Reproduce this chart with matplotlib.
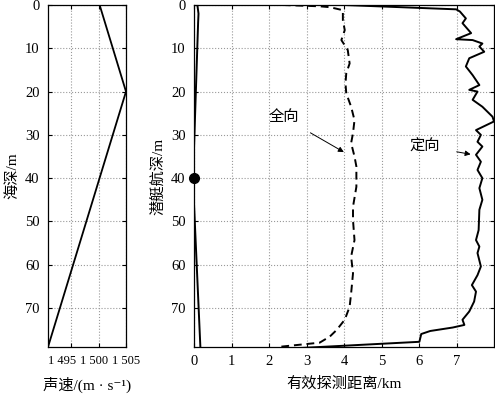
import numpy as np
import matplotlib
matplotlib.use('Agg')
import matplotlib.pyplot as plt
import matplotlib.ticker as ticker

plt.rcParams['font.family'] = ['Liberation Serif', 'Noto Sans CJK SC', 'DejaVu Sans']
plt.rcParams['font.size'] = 10.5
plt.rcParams['xtick.direction'] = 'in'
plt.rcParams['ytick.direction'] = 'in'
plt.rcParams['xtick.top'] = True
plt.rcParams['ytick.right'] = True
plt.rcParams['axes.unicode_minus'] = False

## sound speed profile
sp_depth = [0, 20, 79]
sp_speed = [1500.2, 1505.0, 1490.8]
speed_ticks = [1495, 1500, 1505]
speed_labels = ['1 495', '1 500', '1 505']

## directional (定向) detection range, solid
dir_dist = [0.0, 0.11, 0.12, 0.09, 4.0, 6.99, 7.09, 7.25, 7.16, 7.39, 6.99, 7.43, 7.69,
            7.61, 7.74, 7.34, 7.25, 7.43, 7.61, 7.34, 7.56, 7.43, 7.69, 7.96, 8.0,
            7.52, 7.65, 7.56, 7.69, 7.52, 7.65, 7.56, 7.69, 7.61, 7.69, 7.61, 7.59,
            7.52, 7.61, 7.56, 7.65, 7.56, 7.41, 7.52, 7.47, 7.34, 7.16, 7.21, 6.9,
            6.3, 6.06, 6.01, 3.35, 0.2, 0.17, 0.0]
dir_depth = [33, 4, 2, 0, 0, 1.0, 1.5, 3.1, 4.2, 6.5, 7.9, 8.1, 8.9,
             9.6, 10.8, 12.3, 14.2, 16.2, 18.5, 19.6, 20.0, 21.9, 23.5, 25.8, 26.9,
             28.9, 30.0, 31.6, 32.7, 34.6, 36.2, 38.1, 40.0, 42.3, 45.0, 47.3, 52.0,
             54.3, 55.8, 57.3, 60.4, 62.4, 64.7, 66.2, 68.5, 70.8, 72.7, 73.9, 74.5,
             75.3, 76.0, 77.8, 79.0, 80.4, 79.0, 46.0]

## omnidirectional (全向) detection range, dashed
omni_dist = [2.37, 3.35, 3.62, 3.97, 3.97, 4.02, 3.93, 4.10, 4.15, 4.06, 4.04, 4.06,
             4.19, 4.28, 4.24, 4.19, 4.28, 4.33, 4.33, 4.33, 4.24, 4.24, 4.28, 4.19,
             4.24, 4.19, 4.15, 4.02, 3.80, 3.62, 3.35, 2.23]
omni_depth = [0, 0.3, 0.5, 1.2, 3.5, 5.8, 8.1, 10.4, 13.5, 15.8, 18.1, 20.4,
              23.5, 26.6, 29.6, 31.9, 35.0, 37.3, 39.3, 42.0, 46.6, 49.7, 54.3, 58.1,
              62.0, 66.6, 69.7, 72.7, 75.1, 76.6, 78.0, 79.0]

sub_depth = 40

fig = plt.figure(figsize=(4.95, 3.94), dpi=100)

p1 = fig.add_axes([48/495, 1-347/394, 78/495, 342/394])
p2 = fig.add_axes([194/495, 1-347/394, 300/495, 342/394])

p1.plot(sp_speed, sp_depth, color='black', lw=1.3)
p1.set_xlim(1490.8, 1505)
p1.set_xticks(speed_ticks)
p1.set_xticklabels([])
# crowded labels: written by hand, nudged left so they don't run together
for tk, lab, dx in zip(speed_ticks, speed_labels, [-6.5, -3, 0]):
    p1.annotate(lab, xy=(tk, 0), xycoords=('data', 'axes fraction'),
                xytext=(dx, -6), textcoords='offset points',
                ha='center', va='top', fontsize=9, annotation_clip=False)
p1.set_xlabel('声速/(m · s\u207b\u00b9)', fontsize=11)
p1.xaxis.set_label_coords(0.5, -0.088)
p1.set_ylabel('海深/m', labelpad=4, fontsize=11)

p2.plot(dir_dist, dir_depth, color='black', lw=1.4)
p2.plot(omni_dist, omni_depth, color='black', lw=1.4, ls=(0, (4, 2.5)))
p2.plot([0], [sub_depth], 'o', color='black', ms=7, clip_on=False, zorder=10)
p2.set_xlim(0, 8)
p2.set_xticks(range(0, 8))
p2.set_xlabel('有效探测距离/km', labelpad=6, fontsize=11)
p2.set_ylabel('潜艇航深/m', labelpad=4, fontsize=11)

p2.annotate('全向', xy=(4.06, 34.3), xytext=(2.4, 26), ha='center', va='center',
            fontsize=11, arrowprops=dict(arrowstyle='-|>', color='black', lw=0.7,
                                         mutation_scale=8, shrinkA=8))
p2.annotate('定向', xy=(7.45, 34.6), xytext=(6.16, 32.6), ha='center', va='center',
            fontsize=11, arrowprops=dict(arrowstyle='-|>', color='black', lw=0.7,
                                         mutation_scale=8, shrinkA=10))

for pp in [p1, p2]:
    pp.set_ylim(79, 0)
    pp.yaxis.set_major_locator(ticker.MultipleLocator(10))
    pp.grid(True, color='#999999', ls=':', lw=0.8)
    pp.tick_params(length=3, width=0.8, pad=6)
    for s in pp.spines.values():
        s.set_linewidth(0.9)

fig.savefig('out.png', dpi=100)
